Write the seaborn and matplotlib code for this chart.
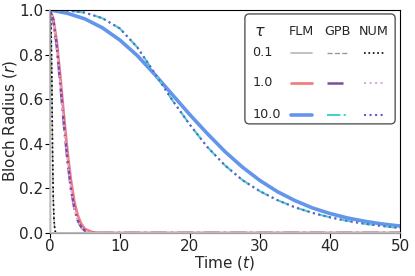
import matplotlib
matplotlib.use("Agg")
import matplotlib.pyplot as plt
import seaborn as sns
from matplotlib.patches import FancyBboxPatch

# ---- data ----
taus = ["0.1", "1.0", "10.0"]
methods = ["FLM", "GPB", "NUM"]

# tau = 0.1
t_01_flm = [0.0, 0.08, 50.0]
r_01_flm = [1.0, 0.0, 0.0]
t_01 = [0.0, 0.1, 0.2, 0.3, 0.35, 0.4, 0.5, 0.6, 0.7, 0.8, 0.9, 50.0]
r_01 = [1.0, 0.98, 0.9, 0.68, 0.5, 0.35, 0.15, 0.06, 0.02, 0.005, 0.0, 0.0]

# tau = 1.0
t_1 = [0.0, 0.5, 1.0, 1.5, 2.0, 2.5, 3.0, 3.5, 4.0, 4.5, 5.0, 6.0, 7.0, 8.0, 50.0]
r_1_flm = [1.0, 0.96, 0.855, 0.70, 0.53, 0.37, 0.24, 0.14, 0.077, 0.04, 0.018, 0.004, 0.0, 0.0, 0.0]
r_1_gpb = [1.0, 0.955, 0.835, 0.665, 0.49, 0.33, 0.20, 0.11, 0.055, 0.025, 0.01, 0.002, 0.0, 0.0, 0.0]
r_1_num = [1.0, 0.955, 0.835, 0.665, 0.49, 0.33, 0.20, 0.11, 0.055, 0.025, 0.01, 0.002, 0.0, 0.0, 0.0]

# tau = 10.0
t_10 = [0.0, 2.5, 5.0, 7.5, 10.0, 12.5, 15.0, 17.5, 20.0, 22.5, 25.0,
        27.5, 30.0, 32.5, 35.0, 37.5, 40.0, 42.5, 45.0, 47.5, 50.0]
r_10_flm = [1.0, 0.985, 0.96, 0.92, 0.865, 0.795, 0.71, 0.62, 0.53, 0.445, 0.365,
            0.295, 0.235, 0.185, 0.145, 0.112, 0.087, 0.067, 0.052, 0.04, 0.031]
r_10_gpb = [1.0, 0.997, 0.988, 0.963, 0.917, 0.832, 0.715, 0.595, 0.485, 0.385, 0.303,
            0.237, 0.187, 0.147, 0.115, 0.09, 0.07, 0.054, 0.041, 0.031, 0.022]
r_10_num = r_10_gpb

styles = {
    ("0.1", "FLM"):  dict(color="#bdbdbd", ls="-", lw=1.3),
    ("0.1", "GPB"):  dict(color="#999999", ls="--", lw=1.0),
    ("0.1", "NUM"):  dict(color="black", ls=":", lw=1.2),
    ("1.0", "FLM"):  dict(color="#f08080", ls="-", lw=2.0),
    ("1.0", "GPB"):  dict(color="#7e4aa3", ls="-.", lw=1.8),
    ("1.0", "NUM"):  dict(color="#e6a8d7", ls=":", lw=1.5),
    ("10.0", "FLM"): dict(color="#6495ed", ls="-", lw=2.6),
    ("10.0", "GPB"): dict(color="#48d1cc", ls="-.", lw=1.5),
    ("10.0", "NUM"): dict(color="#6a5acd", ls=":", lw=1.5),
}

curves = [
    ("0.1", "GPB", t_01, r_01),
    ("0.1", "NUM", t_01, r_01),
    ("1.0", "FLM", t_1, r_1_flm),
    ("1.0", "GPB", t_1, r_1_gpb),
    ("1.0", "NUM", t_1, r_1_num),
    ("10.0", "FLM", t_10, r_10_flm),
    ("10.0", "GPB", t_10, r_10_gpb),
    ("10.0", "NUM", t_10, r_10_num),
]

sns.set_style("ticks")
fig, ax = plt.subplots(figsize=(4.15, 2.76), dpi=100)
fig.subplots_adjust(left=0.12, right=0.964, bottom=0.156, top=0.964)

st = styles[("0.1", "FLM")]
sns.lineplot(x=t_01_flm, y=r_01_flm, ax=ax, color=st["color"], linestyle=st["ls"],
             linewidth=st["lw"], sort=False, clip_on=False, zorder=3)
for tau, m, t, r in curves:
    st = styles[(tau, m)]
    sns.lineplot(x=t, y=r, ax=ax, color=st["color"], linestyle=st["ls"],
                 linewidth=st["lw"], sort=False)

ax.set_xlim(0, 50)
ax.set_ylim(0, 1.0)
ax.set_xticks([0, 10, 20, 30, 40, 50])
ax.set_yticks([0.0, 0.2, 0.4, 0.6, 0.8, 1.0])
ax.set_xlabel("Time ($t$)", fontsize=11, labelpad=0)
ax.set_ylabel("Bloch Radius ($r$)", fontsize=11, labelpad=0)
ax.tick_params(labelsize=11, length=3.5, pad=1, color="black")
for s in ax.spines.values():
    s.set_color("black")
    s.set_linewidth(0.8)

# ---- table-like legend ----
lg = ax.inset_axes([0.557, 0.489, 0.429, 0.493])
lg.set_xlim(0, 1)
lg.set_ylim(0, 1)
lg.axis("off")
lg.add_patch(FancyBboxPatch((0, 0), 1, 1, boxstyle="round,pad=0,rounding_size=0.03",
                            mutation_aspect=1.37, facecolor="white", edgecolor="#555555",
                            linewidth=1.0, clip_on=False, transform=lg.transAxes))
row_y = [0.645, 0.373, 0.082]
col_x = [(0.307, 0.447), (0.547, 0.68), (0.793, 0.927)]
lg.text(0.1, 0.836, r"$\tau$", ha="center", va="center", fontsize=11.5)
for (x0, x1), m in zip(col_x, methods):
    lg.text((x0 + x1) / 2, 0.836, m, ha="center", va="center", fontsize=9.2)
for y, tau in zip(row_y, taus):
    lg.text(0.05, y, tau, ha="left", va="center", fontsize=9.2)
    for (x0, x1), m in zip(col_x, methods):
        st = styles[(tau, m)]
        lg.plot([x0, x1], [y, y], color=st["color"], linestyle=st["ls"], linewidth=st["lw"])

fig.savefig("out.png", dpi=100)
